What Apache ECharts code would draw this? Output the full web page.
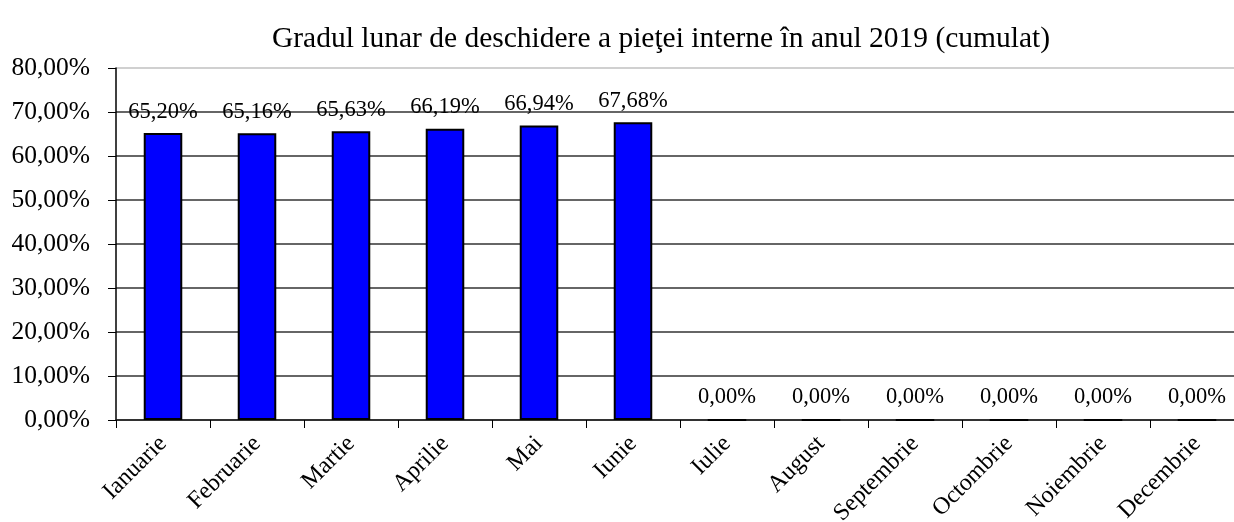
<!DOCTYPE html>
<html style="height: 100%">
<head>
    <meta charset="utf-8">
</head>
<body style="height: 100%; margin: 0; background: #fff">
<div id="container" style="height: 100%"></div>
<script type="text/javascript" src="https://cdn.jsdelivr.net/npm/echarts@6/dist/echarts.min.js"></script>
<script type="text/javascript">
var luni = ['Ianuarie', 'Februarie', 'Martie', 'Aprilie', 'Mai', 'Iunie',
    'Iulie', 'August', 'Septembrie', 'Octombrie', 'Noiembrie', 'Decembrie'];
var grad = [65.20, 65.16, 65.63, 66.19, 66.94, 67.68, 0, 0, 0, 0, 0, 0];
var titlu = 'Gradul lunar de deschidere a pieţei interne în anul 2019 (cumulat)';

var font = '"Liberation Serif", "Times New Roman", serif';
function procent(v) {
    return v.toFixed(2).replace('.', ',') + '%';
}

var dom = document.getElementById("container");
var myChart = echarts.init(dom);

var option = {
    backgroundColor: '#fff',
    animation: false,
    textStyle: { fontFamily: font },
    title: {
        text: titlu,
        left: 661,
        textAlign: 'center',
        top: 19,
        textStyle: { fontFamily: font, fontSize: 29.5, fontWeight: 'normal', color: '#000' }
    },
    // plot runs past the right edge, like the cropped original
    grid: { left: 116, right: -10, top: 68, bottom: 102, outerBoundsMode: 'none', containLabel: false },
    xAxis: {
        type: 'category',
        data: luni,
        axisLine: { lineStyle: { color: '#222', width: 1.5 } },
        axisTick: { show: true, length: 8, lineStyle: { color: '#000' } },
        axisLabel: {
            rotate: 45,
            margin: 20,
            color: '#000',
            fontFamily: font,
            fontSize: 24,
            hideOverlap: false
        }
    },
    yAxis: {
        type: 'value',
        min: 0,
        max: 80,
        interval: 10,
        axisLine: { show: true, lineStyle: { color: '#000', width: 1.5 } },
        axisTick: { show: true, length: 8, lineStyle: { color: '#000' } },
        axisLabel: {
            margin: 26,
            color: '#000',
            fontFamily: font,
            fontSize: 25.5,
            formatter: function (v) { return procent(v); }
        },
        splitLine: {
            show: true,
            lineStyle: {
                width: 1.5,
                color: ['#333', '#333', '#333', '#333', '#333', '#333', '#333', '#333', '#c0c0c0']
            }
        }
    },
    series: [{
        type: 'bar',
        data: grad,
        barWidth: '41%',
        itemStyle: { color: '#0000ff', borderColor: '#000', borderWidth: 2 },
        label: {
            show: true,
            position: 'top',
            distance: 10,
            color: '#000',
            fontFamily: font,
            fontSize: 22.5,
            formatter: function (p) { return procent(p.value); }
        }
    }]
};

option.title.left = 656;
myChart.setOption(option);
</script>
</body>
</html>
